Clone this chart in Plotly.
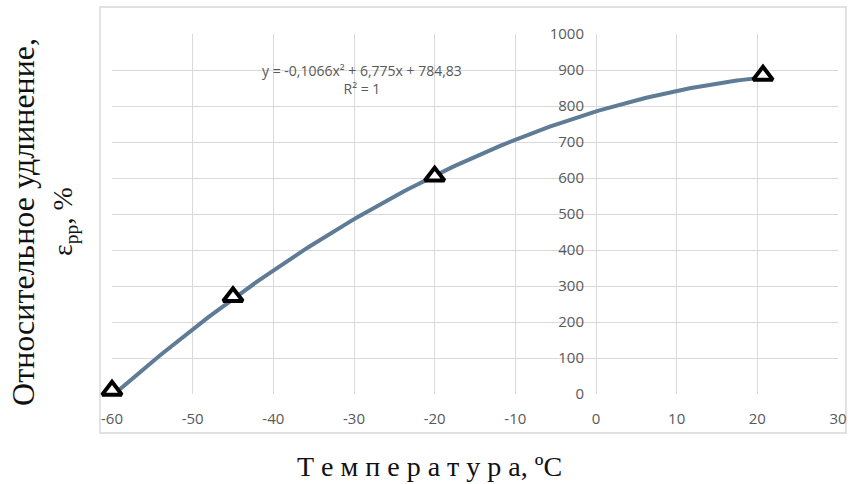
import numpy as np
import plotly.graph_objects as go

# Measured points: temperature (°C) vs relative elongation (%)
temperature = [-60, -45, -20, 20.7]
elongation = [10, 270, 605, 885]

# Quadratic trendline coefficients (a, b, c) for y = a*x^2 + b*x + c
trend_coef = [-0.1066, 6.775, 784.83]
trend_label = "y = -0,1066x² + 6,775x + 784,83<br>R² = 1"

x_ticks = list(range(-60, 31, 10))
x_tick_labels = ["-60", "-50", "-40", "-30", "-20", "-10", "0", "10", "20", "30"]
y_ticks = list(range(0, 1001, 100))

tx = np.linspace(min(temperature), max(temperature), 200)
ty = np.polyval(trend_coef, tx)

grid = "#d9d9d9"
tick_font = dict(family="Open Sans", size=15, color="#595959")
serif = "Liberation Serif"

fig = go.Figure()
fig.add_trace(go.Scatter(
    x=tx, y=ty, mode="lines",
    line=dict(color="#5f7c97", width=4),
    hoverinfo="skip", showlegend=False,
))
fig.add_trace(go.Scatter(
    x=temperature, y=elongation, mode="markers",
    marker=dict(symbol="triangle-up", size=17, color="white",
                line=dict(color="black", width=4)),
    cliponaxis=False, showlegend=False,
))

fig.update_layout(
    width=850, height=484,
    margin=dict(l=112, r=12, t=34, b=90),
    paper_bgcolor="white", plot_bgcolor="white",
    xaxis=dict(
        range=[-60, 30], tickvals=x_ticks, ticktext=x_tick_labels,
        showgrid=True, gridcolor=grid, gridwidth=1, zeroline=False,
        showline=False, tickfont=tick_font, ticklabelstandoff=14,
        automargin=False,
    ),
    yaxis=dict(
        range=[0, 1000], tickvals=y_ticks, showgrid=True, gridcolor=grid,
        gridwidth=1, zeroline=False, showline=False, tickfont=tick_font,
        anchor="free", position=60 / 90, side="left", ticklabelstandoff=12,
        automargin=False,
    ),
    shapes=[dict(
        type="rect", xref="paper", yref="paper",
        x0=-0.0165, x1=1.011, y0=-0.108, y1=1.075,
        line=dict(color=grid, width=1.5), layer="below",
    )],
    annotations=[
        dict(text=trend_label, x=-29, y=874, xref="x", yref="y",
             showarrow=False, align="center",
             font=dict(family="Open Sans", size=14, color="#595959")),
        dict(text="Т е м п е р а т у р а, ºC", x=0.437, y=-0.2,
             xref="paper", yref="paper", xanchor="center", yanchor="middle",
             showarrow=False,
             font=dict(family=serif, size=28, color="#111111")),
        dict(text="Относительное удлинение,", x=-0.1226, y=0.478,
             xref="paper", yref="paper", xanchor="center", yanchor="middle",
             textangle=-90, showarrow=False,
             font=dict(family=serif, size=32, color="#111111")),
        dict(text="ε<sub>pp</sub>, %", x=-0.0647, y=0.478,
             xref="paper", yref="paper", xanchor="center", yanchor="middle",
             textangle=-90, showarrow=False,
             font=dict(family=serif, size=28, color="#111111")),
    ],
)

fig.write_html("out.html")
